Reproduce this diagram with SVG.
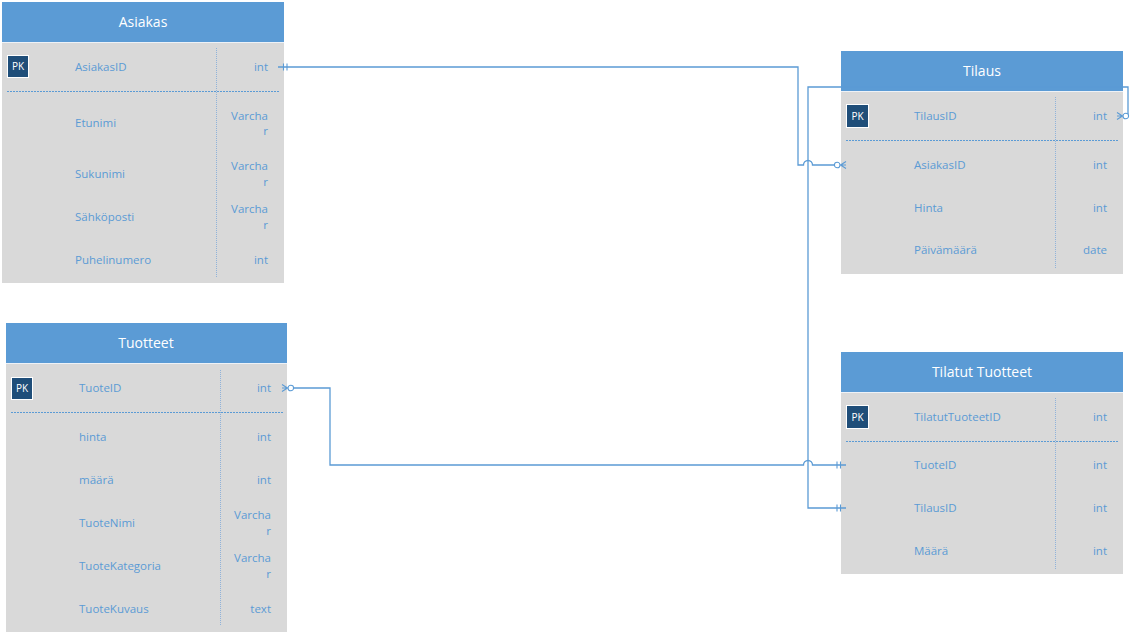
<svg xmlns="http://www.w3.org/2000/svg" xmlns:xlink="http://www.w3.org/1999/xlink" width="1131" height="634" viewBox="0 0 1131 634">
<style>
.hdr{fill:#5B9BD5}
.body{fill:#D9D9D9}
.sep{stroke:#EEF2F7;stroke-width:1}
.title{font-family:"Open Sans","Liberation Sans",sans-serif;font-size:14px;fill:#FFFFFF;text-anchor:middle}
.txt{font-family:"Open Sans","Liberation Sans",sans-serif;font-size:11.5px;fill:#5B9BD5}
.typ{font-family:"Open Sans","Liberation Sans",sans-serif;font-size:11.5px;fill:#5B9BD5;text-anchor:end}
.pk{fill:#1F4E79;stroke:#FFFFFF;stroke-width:1}
.pkt{font-family:"Open Sans","Liberation Sans",sans-serif;font-size:10px;fill:#FFFFFF;text-anchor:middle}
.vdiv{stroke:#8FB2DA;stroke-width:1;stroke-dasharray:1 1;fill:none}
.hdiv{stroke:#5B9BD5;stroke-width:1;stroke-dasharray:2 1;fill:none}
.conn{stroke:#5B9BD5;stroke-width:1.3;fill:none}
.mk{stroke:#5B9BD5;stroke-width:1.1;fill:none}
.mkc{stroke:#5B9BD5;stroke-width:1.1;fill:#FFFFFF}
</style>
<defs>
<g id="zm">
<path class="mk" d="M0,-3.5 L5.5,0 L0,3.5 M0,0 H5.5"/>
<circle class="mkc" cx="8.8" cy="0" r="2.8"/>
</g>
<g id="one">
<path class="mk" d="M5.5,-3.5 V3.5 M9,-3.5 V3.5"/>
</g>
</defs>
<rect width="1131" height="634" fill="#FFFFFF"/>

<g id="node-asiakas">
<rect class="hdr" x="2" y="2" width="282" height="40"/>
<rect class="body" x="2" y="42" width="282" height="241"/>
<line class="sep" x1="2" y1="42.5" x2="284" y2="42.5"/>
<text class="title" x="143" y="27">Asiakas</text>
<line class="vdiv" x1="216.5" y1="48" x2="216.5" y2="278"/>
<line class="hdiv" x1="7" y1="91.5" x2="279" y2="91.5"/>
<rect class="pk" x="7.5" y="55.5" width="21" height="22"/>
<text class="pkt" x="18" y="70">PK</text>
<text class="txt" x="75" y="71">AsiakasID</text><text class="typ" x="268" y="71">int</text>
<text class="txt" x="75" y="127">Etunimi</text><text class="typ" x="268" y="120">Varcha</text><text class="typ" x="268" y="135">r</text>
<text class="txt" x="75" y="178">Sukunimi</text><text class="typ" x="268" y="170">Varcha</text><text class="typ" x="268" y="186">r</text>
<text class="txt" x="75" y="221">Sähköposti</text><text class="typ" x="268" y="213">Varcha</text><text class="typ" x="268" y="229">r</text>
<text class="txt" x="75" y="264">Puhelinumero</text><text class="typ" x="268" y="264">int</text>
</g>

<g id="node-tilaus">
<rect class="hdr" x="841" y="51" width="282" height="40"/>
<rect class="body" x="841" y="91" width="282" height="183"/>
<line class="sep" x1="841" y1="91.5" x2="1123" y2="91.5"/>
<text class="title" x="982" y="76">Tilaus</text>
<line class="vdiv" x1="1055.5" y1="97" x2="1055.5" y2="269"/>
<line class="hdiv" x1="846" y1="140.5" x2="1118" y2="140.5"/>
<rect class="pk" x="846.5" y="104.5" width="22" height="23"/>
<text class="pkt" x="857.5" y="120">PK</text>
<text class="txt" x="914" y="120">TilausID</text><text class="typ" x="1107" y="120">int</text>
<text class="txt" x="914" y="169">AsiakasID</text><text class="typ" x="1107" y="169">int</text>
<text class="txt" x="914" y="212">Hinta</text><text class="typ" x="1107" y="212">int</text>
<text class="txt" x="914" y="254">Päivämäärä</text><text class="typ" x="1107" y="254">date</text>
</g>

<g id="node-tuotteet">
<rect class="hdr" x="6" y="323" width="281" height="40"/>
<rect class="body" x="6" y="363" width="281" height="269"/>
<line class="sep" x1="6" y1="363.5" x2="287" y2="363.5"/>
<text class="title" x="146" y="348">Tuotteet</text>
<line class="vdiv" x1="220.5" y1="370" x2="220.5" y2="625"/>
<line class="hdiv" x1="11" y1="412.5" x2="283" y2="412.5"/>
<rect class="pk" x="11.5" y="377.5" width="21" height="22"/>
<text class="pkt" x="22" y="392">PK</text>
<text class="txt" x="79" y="392">TuoteID</text><text class="typ" x="271" y="392">int</text>
<text class="txt" x="79" y="441">hinta</text><text class="typ" x="271" y="441">int</text>
<text class="txt" x="79" y="484">määrä</text><text class="typ" x="271" y="484">int</text>
<text class="txt" x="79" y="527">TuoteNimi</text><text class="typ" x="271" y="519">Varcha</text><text class="typ" x="271" y="535">r</text>
<text class="txt" x="79" y="570">TuoteKategoria</text><text class="typ" x="271" y="562">Varcha</text><text class="typ" x="271" y="578">r</text>
<text class="txt" x="79" y="613">TuoteKuvaus</text><text class="typ" x="271" y="613">text</text>
</g>

<g id="node-tilatut-tuotteet">
<rect class="hdr" x="841" y="352" width="282" height="40"/>
<rect class="body" x="841" y="392" width="282" height="182"/>
<line class="sep" x1="841" y1="392.5" x2="1123" y2="392.5"/>
<text class="title" x="982" y="377">Tilatut Tuotteet</text>
<line class="vdiv" x1="1055.5" y1="398" x2="1055.5" y2="569"/>
<line class="hdiv" x1="846" y1="441.5" x2="1118" y2="441.5"/>
<rect class="pk" x="846.5" y="405.5" width="22" height="23"/>
<text class="pkt" x="857.5" y="421">PK</text>
<text class="txt" x="914" y="421">TilatutTuoteetID</text><text class="typ" x="1107" y="421">int</text>
<text class="txt" x="914" y="469">TuoteID</text><text class="typ" x="1107" y="469">int</text>
<text class="txt" x="914" y="512">TilausID</text><text class="typ" x="1107" y="512">int</text>
<text class="txt" x="914" y="555">Määrä</text><text class="typ" x="1107" y="555">int</text>
</g>

<g id="connectors">
<path class="conn" d="M278,67 H798 V165 H803.5 A4.5,4.5 0 0 1 812.5,165 H840"/>
<use xlink:href="#one" transform="translate(278,67)"/>
<use xlink:href="#zm" transform="translate(846,165) scale(-1,1)"/>

<path class="conn" d="M1128,116 V87 H808 V508 H846"/>
<use xlink:href="#zm" transform="translate(1117,116)"/>
<use xlink:href="#one" transform="translate(846,508) scale(-1,1)"/>

<path class="conn" d="M293,388 H330 V465 H803.5 A4.5,4.5 0 0 1 812.5,465 H846"/>
<use xlink:href="#zm" transform="translate(282,388)"/>
<use xlink:href="#one" transform="translate(846,465) scale(-1,1)"/>
</g>
</svg>
